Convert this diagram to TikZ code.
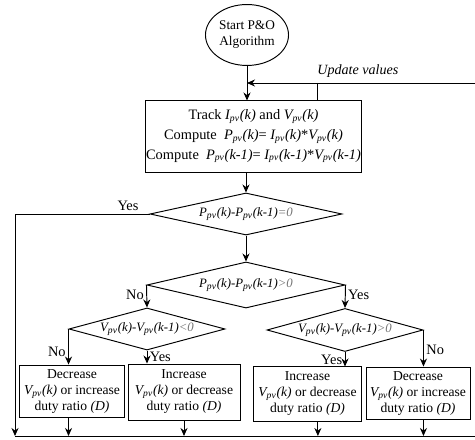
\documentclass[tikz,border=0pt]{standalone}
\usepackage{fontspec}
\setmainfont{Liberation Serif}
\usepackage{tikz}
\usetikzlibrary{positioning,arrows.meta,shapes.geometric}

\newcommand{\pvq}[2]{\textit{#1\textsubscript{pv}(#2)}}
\newcommand{\cond}[1]{\makebox[0pt]{\textit{#1}}}
\newcommand{\sgn}[1]{\textcolor{black!55}{#1}}

\begin{document}
\begin{tikzpicture}[
    x=0.625pt, y=-0.625pt,
    line width=0.6pt,
    terminal/.style={ellipse, draw, inner sep=0pt, minimum width=51.9pt, minimum height=38.1pt, align=center, font=\fontsize{8.3}{10}\selectfont},
    process/.style={rectangle, draw, inner sep=0pt, align=center, font=\fontsize{9}{12.3}\selectfont},
    decision/.style={diamond, draw, inner sep=0pt, font=\fontsize{8}{9}\selectfont},
    action/.style={rectangle, draw, inner sep=0pt, align=center, font=\fontsize{8.5}{10}\selectfont},
    branchlabel/.style={inner sep=1.5pt, font=\fontsize{9}{10}\selectfont},
    >={Stealth[length=5pt,width=4.4pt]}
]
\useasboundingbox (0,0) rectangle (475,440);

% ----- Start and tracking -----
\node[terminal] (start) at (247,35) {Start P\&O\\Algorithm};
\node[process, minimum width=135.6pt, minimum height=44.4pt] (track) at (253.5,136.5)
    {Track \pvq{I}{k} and \pvq{V}{k}\\
     Compute\enspace\pvq{P}{k}= \pvq{I}{k}*\pvq{V}{k}\\
     Compute\enspace\pvq{P}{k-1}= \pvq{I}{k-1}*\pvq{V}{k-1}};

% ----- Decisions -----
\node[decision, minimum width=120pt, minimum height=26.3pt] (D1) at (246,214)
    {\cond{\pvq{P}{k}-\pvq{P}{k-1}\sgn{=0}}};
\node[decision, minimum width=123.8pt, minimum height=28.8pt] (D2) at (246,285)
    {\cond{\pvq{P}{k}-\pvq{P}{k-1}\sgn{>0}}};
\node[decision, minimum width=97.5pt, minimum height=26.3pt] (D3) at (147,329)
    {\cond{\pvq{V}{k}-\pvq{V}{k-1}\sgn{<0}}};
\node[decision, minimum width=97.5pt, minimum height=26.9pt] (D4) at (345,330)
    {\cond{\pvq{V}{k}-\pvq{V}{k-1}\sgn{>0}}};

% ----- Duty ratio actions -----
\node[action, minimum width=65.6pt, minimum height=33.1pt] (B1) at (72,391.5)
    {Decrease\\\pvq{V}{k} or increase\\duty ratio \textit{(D)}};
\node[action, minimum width=70pt, minimum height=35pt] (B2) at (184,392)
    {Increase\\\pvq{V}{k} or decrease\\duty ratio \textit{(D)}};
\node[action, minimum width=68.1pt, minimum height=33.8pt] (B3) at (307.5,394)
    {Increase\\\pvq{V}{k} or decrease\\duty ratio \textit{(D)}};
\node[action, minimum width=65pt, minimum height=33.1pt] (B4) at (418,393.5)
    {Decrease\\\pvq{V}{k} or increase\\duty ratio \textit{(D)}};

% ----- Loop corners -----
\coordinate (loopL) at (15,436);
\coordinate (loopR) at (478,436);
\coordinate (loopT) at (478,83);
\coordinate (tick) at (317,83);

% ----- Connections -----
\draw[->] (start.south) -- (start.south |- track.north);
\draw[->] (track.south -| D1.north) -- (D1.north);
\draw[->] (D1.south) -- (D2.north);
\draw[->] (D2.west) -- node[branchlabel, left, pos=0.43] {No} (D3.north);
\draw[->] (D2.east) -- node[branchlabel, right, pos=0.43] {Yes} (D4.north);
\draw[->] (D3.west) -- node[branchlabel, left, pos=0.64] {No} (D3.west |- B1.north);
\draw[->] (D3.south) -- node[branchlabel, right, pos=0.5] {Yes} (D3.south |- B2.north);
\draw[->] (D4.south) -- node[branchlabel, left, pos=0.55] {Yes} (D4.south |- B3.north);
\draw[->] (D4.east) -- node[branchlabel, right, pos=0.54] {No} (D4.east |- B4.north);

\draw[->] (D1.west) -- node[branchlabel, above, pos=0.16] {Yes} (D1.west -| loopL) -- (loopL);
\draw[->] (B1.south -| D3.west) -- (D3.west |- loopL);
\draw[->] (B2.south) -- (B2.south |- loopL);
\draw[->] ([xshift=6.5pt]B3.south) -- ([xshift=6.5pt]B3.south |- loopL);
\draw[->] (B4.south -| D4.east) -- (D4.east |- loopL);

\draw[->] (loopL) -- (loopR) -- (loopT)
    -- node[above, pos=0.52, font=\fontsize{8.8}{10}\selectfont\itshape] {Update values} (start.south |- loopT);
\draw (tick) -- (tick |- track.north);

\end{tikzpicture}
\end{document}
